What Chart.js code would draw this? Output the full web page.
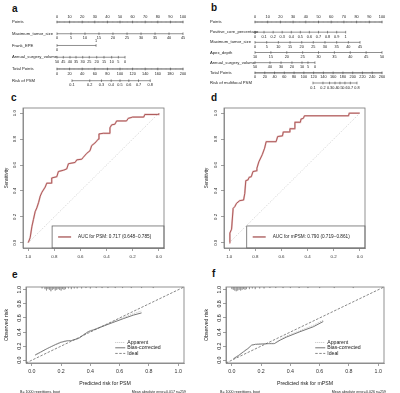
<!DOCTYPE html>
<html>
<head>
<meta charset="utf-8">
<script src="https://cdn.jsdelivr.net/npm/chart.js@4.4.1/dist/chart.umd.min.js"></script>
<style>
  body { margin: 0; background: #fff; width: 400px; height: 393px; position: relative; overflow: hidden; }
  canvas { position: absolute; }
  .tag { position: absolute; font: bold 10px 'Liberation Sans', Arial, sans-serif; line-height: 10px; color: #111; }
</style>
</head>
<body>
<div class="tag" style="left:12px;top:4px">a</div>
<div class="tag" style="left:211px;top:3px">b</div>
<div class="tag" style="left:11px;top:93px">c</div>
<div class="tag" style="left:211px;top:93px">d</div>
<div class="tag" style="left:12px;top:270px">e</div>
<div class="tag" style="left:212px;top:269px">f</div>

<canvas id="nomoA" width="200" height="95" style="left:0;top:0"></canvas>
<canvas id="nomoB" width="200" height="95" style="left:200px;top:0"></canvas>
<canvas id="rocC" width="200" height="170" style="left:0;top:95px"></canvas>
<canvas id="rocD" width="200" height="170" style="left:200px;top:95px"></canvas>
<canvas id="calE" width="200" height="128" style="left:0;top:265px"></canvas>
<canvas id="calF" width="200" height="128" style="left:200px;top:265px"></canvas>

<script>
const FONT = "'Liberation Sans', Arial, Helvetica, sans-serif"

// --- nomogram a (PSM) ---
const aPointsTicks = [0, 10, 20, 30, 40, 50, 60, 70, 80, 90, 100]
const aTumorSize = [0, 5, 10, 15, 20, 25, 30, 35, 40, 45]
const aTumorSizePts = [0, 11.1, 22.2, 33.3, 44.4, 55.6, 66.7, 77.8, 88.9, 100]
const aFrankEPE = [0, 1]
const aFrankEPEPts = [0, 31]
const aVolume = [50, 45, 40, 35, 30, 25, 20, 15, 10, 5, 0]
const aVolumePts = [0, 5, 10.3, 15.1, 20.4, 25.6, 31.5, 37.3, 43.4, 48.7, 54]
const aTotalPoints = [0, 20, 40, 60, 80, 100, 120, 140, 160, 180, 200]
const aRisk = [0.1, 0.2, 0.3, 0.4, 0.5, 0.6, 0.7, 0.8]
const aRiskTotal = [23.8, 52, 70.6, 86, 100, 114, 129.4, 148]

// --- nomogram b (multifocal PSM) ---
const bPointsTicks = [0, 10, 20, 30, 40, 50, 60, 70, 80, 90, 100]
const bCorePct = [0, 0.1, 0.2, 0.3, 0.4, 0.5, 0.6, 0.7, 0.8, 0.9, 1]
const bCorePctPts = [0, 7.1, 14.3, 21.4, 28.6, 35.7, 42.8, 50, 57.1, 64.3, 71.4]
const bTumorSize = [0, 5, 10, 15, 20, 25, 30, 35, 40, 45]
const bTumorSizePts = [0, 9.2, 18.4, 27.6, 36.8, 45.9, 55.1, 64.3, 73.5, 82.7]
const bApexDepth = [10, 15, 20, 25, 30, 35, 40, 45, 50]
const bApexDepthPts = [0, 12.5, 25, 37.5, 50, 62.5, 75, 87.5, 100]
const bVolume = [50, 40, 30, 20, 10, 5, 0]
const bVolumePts = [0, 11.8, 20.5, 29.1, 37, 41.7, 47.2]
const bTotalPoints = [0, 20, 40, 60, 80, 100, 120, 140, 160, 180, 200, 220, 240, 260]
const bRisk = [0.1, 0.2, 0.3, 0.4, 0.5, 0.6, 0.7, 0.8]
const bRiskTotal = [118.7, 139.1, 152.6, 163.8, 173.9, 184.1, 195.2, 208.8]

// --- ROC c (PSM) ---
const cSpecificity = [1, 0.985, 0.972, 0.96, 0.947, 0.934, 0.921, 0.908, 0.895, 0.87,
  0.858, 0.82, 0.82, 0.781, 0.769, 0.73, 0.705, 0.692, 0.641, 0.628,
  0.59, 0.578, 0.552, 0.527, 0.514, 0.489, 0.463, 0.458, 0.425, 0.374,
  0.374, 0.361, 0.336, 0.323, 0.247, 0.234, 0.2, 0.115, 0.107, 0, 0]
const cSensitivity = [0, 0.04, 0.125, 0.18, 0.24, 0.27, 0.31, 0.36, 0.39, 0.43,
  0.46, 0.46, 0.5, 0.51, 0.55, 0.56, 0.57, 0.61, 0.62, 0.64,
  0.645, 0.66, 0.69, 0.71, 0.75, 0.77, 0.8, 0.84, 0.845, 0.845,
  0.887, 0.91, 0.915, 0.94, 0.94, 0.96, 0.97, 0.97, 0.99, 0.99, 1]

// --- ROC d (multifocal PSM) ---
const dSpecificity = [1, 0.995, 0.982, 0.97, 0.957, 0.944, 0.92, 0.89, 0.881, 0.873,
  0.856, 0.848, 0.831, 0.818, 0.792, 0.788, 0.773, 0.747, 0.729, 0.717,
  0.641, 0.629, 0.592, 0.586, 0.54, 0.535, 0.5, 0.497, 0.455, 0.45,
  0.432, 0.424, 0.086, 0.081, 0]
const dSensitivity = [0, 0.075, 0.105, 0.265, 0.28, 0.305, 0.325, 0.33, 0.38, 0.48,
  0.485, 0.505, 0.51, 0.55, 0.555, 0.575, 0.625, 0.68, 0.73, 0.78,
  0.78, 0.82, 0.825, 0.855, 0.855, 0.88, 0.88, 0.93, 0.93, 0.955,
  0.96, 0.98, 0.98, 1, 1]

const chanceSpec = [1, 0]
const chanceSens = [0, 1]
const unitTicks = [0, 0.2, 0.4, 0.6, 0.8, 1]

// --- calibration e (PSM) ---
const eCalX = [0.023, 0.06, 0.1, 0.16, 0.2, 0.24, 0.27, 0.32, 0.364, 0.386, 0.44, 0.534, 0.625, 0.693, 0.75]
const eApparentY = [0.07, 0.11, 0.16, 0.225, 0.26, 0.28, 0.28, 0.31, 0.38, 0.41, 0.45, 0.53, 0.605, 0.66, 0.7]
const eBiasY = [0.075, 0.115, 0.16, 0.22, 0.255, 0.275, 0.278, 0.31, 0.375, 0.405, 0.445, 0.52, 0.59, 0.64, 0.672]
const eRugX = [0.07, 0.09, 0.1, 0.11, 0.12, 0.13, 0.14, 0.15, 0.16, 0.17, 0.18, 0.19, 0.2, 0.21, 0.22, 0.23,
  0.25, 0.27, 0.29, 0.31, 0.34, 0.37, 0.4, 0.44, 0.48, 0.52, 0.57, 0.62, 0.68, 0.75, 0.83]
const eRugH = [0.02, 0.03, 0.05, 0.03, 0.04, 0.06, 0.04, 0.03, 0.05, 0.04, 0.03, 0.04, 0.05, 0.03, 0.04, 0.03,
  0.02, 0.03, 0.02, 0.02, 0.02, 0.015, 0.02, 0.015, 0.015, 0.015, 0.015, 0.015, 0.015, 0.015, 0.015]

// --- calibration f (multifocal PSM) ---
const fCalX = [0.011, 0.045, 0.08, 0.11, 0.136, 0.16, 0.205, 0.25, 0.29, 0.33, 0.375, 0.466, 0.557, 0.625]
const fApparentY = [0.025, 0.07, 0.125, 0.17, 0.21, 0.225, 0.235, 0.24, 0.24, 0.295, 0.345, 0.42, 0.495, 0.57]
const fBiasY = [0.02, 0.065, 0.12, 0.165, 0.215, 0.225, 0.23, 0.235, 0.235, 0.285, 0.33, 0.405, 0.475, 0.55]
const fRugX = [0, 0.01, 0.02, 0.03, 0.04, 0.05, 0.06, 0.07, 0.08, 0.09, 0.1, 0.12, 0.14, 0.16, 0.19,
  0.22, 0.26, 0.3, 0.35, 0.4, 0.46, 0.52, 0.6, 0.7, 0.83]
const fRugH = [0.03, 0.04, 0.05, 0.06, 0.05, 0.04, 0.05, 0.04, 0.03, 0.04, 0.03, 0.03, 0.02, 0.03, 0.02,
  0.02, 0.015, 0.015, 0.015, 0.015, 0.015, 0.015, 0.015, 0.015, 0.015]

const idealLine = [-0.04, 1.04]

Chart.defaults.font.family = FONT
Chart.defaults.animation = false
Chart.defaults.responsive = false
Chart.defaults.plugins.legend.display = false
Chart.defaults.plugins.tooltip.enabled = false

// --- plugins ---

const nomoLabels = {
  id: 'nomoLabels',
  afterDatasetsDraw(chart, args, o) {
    const { ctx, scales: { x, y } } = chart
    ctx.save()
    ctx.fillStyle = '#222'
    ctx.textBaseline = 'middle'
    o.rows.forEach((row, i) => {
      const py = y.getPixelForValue(i)
      ctx.font = o.nameSize + 'px ' + FONT
      ctx.textAlign = 'left'
      ctx.fillText(row.name, o.nameX, py)
      ctx.font = o.tickSize + 'px ' + FONT
      ctx.textAlign = 'center'
      row.labels.forEach((lab, j) => {
        const side = row.side ? row.side[j] : (row.above ? -1 : 1)
        ctx.fillText(String(lab), x.getPixelForValue(row.pts[j]), py + side * o.gap)
      })
    })
    ctx.restore()
  }
}

const frame = {
  id: 'frame',
  afterDraw(chart) {
    const { ctx, chartArea: a } = chart
    ctx.save()
    ctx.strokeStyle = '#777'
    ctx.lineWidth = 0.8
    ctx.strokeRect(a.left, a.top, a.right - a.left, a.bottom - a.top)
    ctx.restore()
  }
}

const sideText = {
  id: 'sideText',
  afterDraw(chart, args, o) {
    const { ctx, scales: { y }, chartArea: a } = chart
    ctx.save()
    ctx.fillStyle = '#222'
    ctx.textAlign = 'center'
    ctx.textBaseline = 'middle'
    // rotated y tick labels
    ctx.font = o.tickSize + 'px ' + FONT
    unitTicks.forEach((v) => {
      ctx.save()
      ctx.translate(a.left - o.tickOffset, y.getPixelForValue(v))
      ctx.rotate(-Math.PI / 2)
      ctx.fillText(v.toFixed(1), 0, 0)
      ctx.restore()
    })
    // y title
    ctx.font = o.titleSize + 'px ' + FONT
    ctx.save()
    ctx.translate(o.yTitleX, (a.top + a.bottom) / 2)
    ctx.rotate(-Math.PI / 2)
    ctx.fillText(o.yTitle, 0, 0)
    ctx.restore()
    // x title
    if (o.xTitle) {
      ctx.fillText(o.xTitle, (a.left + a.right) / 2, a.bottom + o.xTitleGap)
    }
    // footnotes
    if (o.notes) {
      ctx.font = o.noteSize + 'px ' + FONT
      ctx.textAlign = 'left'
      ctx.fillText(o.notes[0], o.noteLeft, o.noteY)
      ctx.textAlign = 'right'
      ctx.fillText(o.notes[1], o.noteRight, o.noteY)
    }
    ctx.restore()
  }
}

const rocLegend = {
  id: 'rocLegend',
  afterDraw(chart, args, o) {
    const { ctx, scales: { x, y }, chartArea: a } = chart
    const left = x.getPixelForValue(o.fromSpec)
    const top = y.getPixelForValue(o.fromSens)
    const mid = (top + a.bottom) / 2
    ctx.save()
    ctx.strokeStyle = '#666'
    ctx.lineWidth = 0.8
    ctx.strokeRect(left, top, a.right - left, a.bottom - top)
    ctx.strokeStyle = '#8c2323'
    ctx.lineWidth = 1
    ctx.beginPath()
    ctx.moveTo(left + 6, mid)
    ctx.lineTo(left + 19, mid)
    ctx.stroke()
    ctx.fillStyle = '#222'
    ctx.font = '4.7px ' + FONT
    ctx.textBaseline = 'middle'
    ctx.fillText(o.text, left + 26, mid)
    ctx.restore()
  }
}

const calLegend = {
  id: 'calLegend',
  afterDraw(chart, args, o) {
    const { ctx, scales: { x, y } } = chart
    const px = x.getPixelForValue(o.x)
    ctx.save()
    ctx.font = '5.2px ' + FONT
    ctx.textBaseline = 'middle'
    ctx.fillStyle = '#222'
    o.items.forEach((it, i) => {
      const py = y.getPixelForValue(o.ys[i])
      ctx.strokeStyle = it.color
      ctx.lineWidth = it.width
      ctx.setLineDash(it.dash)
      ctx.beginPath()
      ctx.moveTo(px, py)
      ctx.lineTo(px + 10, py)
      ctx.stroke()
      ctx.fillText(it.label, px + 12, py)
    })
    ctx.restore()
  }
}

// --- builders ---

function tickScale(extra) {
  return Object.assign({
    type: 'linear',
    min: -0.04,
    max: 1.04,
    afterBuildTicks: (s) => { s.ticks = unitTicks.map((v) => ({ value: v })) },
    grid: { drawOnChartArea: false, tickLength: 3, color: '#777', lineWidth: 0.7 },
    border: { color: '#777', width: 0.7 }
  }, extra)
}

function drawNomogram(id, rows, o) {
  const datasets = []
  rows.forEach((row, i) => {
    datasets.push({
      data: row.pts.map((p) => ({ x: p, y: i })),
      showLine: true,
      borderColor: '#444',
      borderWidth: 0.6,
      pointStyle: 'line',
      rotation: 90,
      pointRadius: 1.3,
      pointBorderColor: '#444',
      pointBorderWidth: 0.6,
      clip: false
    })
    if (row.minor) {
      datasets.push({
        data: row.minor.map((p) => ({ x: p, y: i })),
        showLine: false,
        pointStyle: 'line',
        rotation: 90,
        pointRadius: 0.8,
        pointBorderColor: '#666',
        pointBorderWidth: 0.45,
        clip: false
      })
    }
  })
  new Chart(document.getElementById(id), {
    type: 'scatter',
    data: { datasets },
    options: {
      layout: { padding: o.padding },
      scales: {
        x: { display: false, min: 0, max: 100 },
        y: { display: false, min: 0, max: rows.length - 1, reverse: true }
      },
      plugins: { nomoLabels: { rows, nameX: o.nameX, nameSize: 4.2, tickSize: 3.8, gap: 4.6 } }
    },
    plugins: [nomoLabels]
  })
}

function drawRoc(id, spec, sens, o) {
  const curve = spec.map((s, i) => ({ x: s, y: sens[i] }))
  const chance = chanceSpec.map((s, i) => ({ x: s, y: chanceSens[i] }))
  new Chart(document.getElementById(id), {
    type: 'scatter',
    data: {
      datasets: [
        { data: chance, showLine: true, borderColor: '#c4c4c4', borderWidth: 0.8, borderDash: [1, 1.5], pointRadius: 0 },
        { data: curve, showLine: true, borderColor: 'rgba(205,130,130,0.45)', borderWidth: 1.8, pointRadius: 0 },
        { data: curve, showLine: true, borderColor: '#8a2020', borderWidth: 0.9, pointRadius: 0 }
      ]
    },
    options: {
      layout: { padding: { left: 0, top: 13, right: o.right, bottom: 0 } },
      scales: {
        x: tickScale({
          reverse: true,
          afterFit: (s) => { s.height = 17 },
          ticks: { callback: (v) => v.toFixed(1), font: { size: 4.4 }, color: '#333', padding: 3.5, maxRotation: 0, autoSkip: false }
        }),
        y: tickScale({
          afterFit: (s) => { s.width = o.left },
          ticks: { display: false }
        })
      },
      plugins: {
        sideText: { tickSize: 4.4, tickOffset: 8, titleSize: 4.6, yTitle: 'Sensitivity', yTitleX: 7 },
        rocLegend: { fromSpec: o.legendSpec, fromSens: 0.13, text: o.legend }
      }
    },
    plugins: [frame, sideText, rocLegend]
  })
}

function drawCalibration(id, calX, apparentY, biasY, rugX, rugH, o) {
  const rug = rugX.flatMap((x, i) => [{ x, y: 1.04 }, { x, y: 1.04 - rugH[i] }, { x, y: null }])
  const ideal = idealLine.map((v) => ({ x: v, y: v }))
  const items = [
    { label: 'Apparent', color: '#b0b0b0', width: 0.8, dash: [1, 1] },
    { label: 'Bias-corrected', color: '#666', width: 0.9, dash: [] },
    { label: 'Ideal', color: '#555', width: 0.7, dash: [2.5, 1.5] }
  ]
  new Chart(document.getElementById(id), {
    type: 'scatter',
    data: {
      datasets: [
        { data: rug, showLine: true, spanGaps: false, borderColor: '#888', borderWidth: 0.5, pointRadius: 0 },
        { data: ideal, showLine: true, borderColor: '#555', borderWidth: 0.7, borderDash: [2.5, 1.5], pointRadius: 0 },
        { data: calX.map((x, i) => ({ x, y: apparentY[i] })), showLine: true, borderColor: '#b0b0b0', borderWidth: 0.8, borderDash: [1, 1], pointRadius: 0 },
        { data: calX.map((x, i) => ({ x, y: biasY[i] })), showLine: true, borderColor: '#666', borderWidth: 0.9, pointRadius: 0 }
      ]
    },
    options: {
      layout: { padding: { left: 0, top: 22, right: 16, bottom: 0 } },
      scales: {
        x: tickScale({
          afterFit: (s) => { s.height = 30 },
          ticks: { callback: (v) => v.toFixed(1), font: { size: 5.3 }, color: '#333', padding: 2.5, maxRotation: 0, autoSkip: false }
        }),
        y: tickScale({
          afterFit: (s) => { s.width = 26 },
          ticks: { display: false }
        })
      },
      plugins: {
        sideText: {
          tickSize: 5.3, tickOffset: 6, titleSize: 5.2, yTitle: 'Observed risk', yTitleX: 7,
          xTitle: o.xTitle, xTitleGap: 20.5,
          notes: ['B= 1000 repetitions, boot', o.error], noteSize: 3.6, noteLeft: 20, noteRight: 186, noteY: 126.5
        },
        calLegend: { x: 0.57, ys: [0.253, 0.176, 0.096], items }
      }
    },
    plugins: [frame, sideText, calLegend]
  })
}

// --- build rows ---

const onePointSteps = Array.from({ length: 101 }, (_, k) => k)
const bTotalMinor = Array.from({ length: 131 }, (_, k) => k * 200 / 260)

const aRows = [
  { name: 'Points', labels: aPointsTicks, pts: aPointsTicks, above: true, minor: onePointSteps },
  { name: 'Maximum_tumor_size', labels: aTumorSize, pts: aTumorSizePts },
  { name: 'Frank_EPE', labels: aFrankEPE, pts: aFrankEPEPts, side: [1, -1] },
  { name: 'Annual_surgery_volume', labels: aVolume, pts: aVolumePts },
  { name: 'Total Points', labels: aTotalPoints, pts: aTotalPoints.map((t) => t * 100 / 200), minor: onePointSteps },
  { name: 'Risk of PSM', labels: aRisk, pts: aRiskTotal.map((t) => t * 100 / 200) }
]

const bRows = [
  { name: 'Points', labels: bPointsTicks, pts: bPointsTicks, above: true, minor: onePointSteps },
  { name: 'Positive_core_percentage', labels: bCorePct, pts: bCorePctPts },
  { name: 'Maximum_tumor_size', labels: bTumorSize, pts: bTumorSizePts },
  { name: 'Apex_depth', labels: bApexDepth, pts: bApexDepthPts },
  { name: 'Annual_surgery_volume', labels: bVolume, pts: bVolumePts },
  { name: 'Total Points', labels: bTotalPoints, pts: bTotalPoints.map((t) => t * 100 / 260), minor: bTotalMinor },
  { name: 'Risk of multifocal PSM', labels: bRisk, pts: bRiskTotal.map((t) => t * 100 / 260) }
]

drawNomogram('nomoA', aRows, { nameX: 12, padding: { left: 57, right: 17, top: 22, bottom: 14.3 } })
drawNomogram('nomoB', bRows, { nameX: 10, padding: { left: 55, right: 18, top: 22, bottom: 12 } })

drawRoc('rocC', cSpecificity, cSensitivity, { left: 23, right: 36, legendSpec: 0.817, legend: 'AUC for PSM: 0.717 (0.648\u22120.785)' })
drawRoc('rocD', dSpecificity, dSensitivity, { left: 24, right: 35, legendSpec: 0.866, legend: 'AUC for mPSM: 0.790 (0.719\u22120.861)' })

drawCalibration('calE', eCalX, eApparentY, eBiasY, eRugX, eRugH, { xTitle: 'Predicted risk for PSM', error: 'Mean absolute error=0.017 n=259' })
drawCalibration('calF', fCalX, fApparentY, fBiasY, fRugX, fRugH, { xTitle: 'Predicted risk for mPSM', error: 'Mean absolute error=0.026 n=259' })
</script>
</body>
</html>
